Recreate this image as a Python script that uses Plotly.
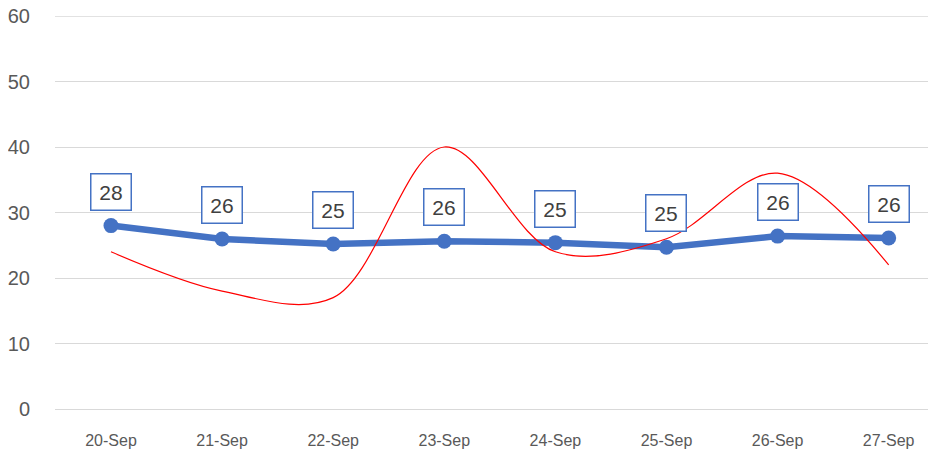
import plotly.graph_objects as go

categories = ["20-Sep", "21-Sep", "22-Sep", "23-Sep", "24-Sep", "25-Sep", "26-Sep", "27-Sep"]
avg_values = [28.0, 25.95, 25.2, 25.6, 25.4, 24.7, 26.4, 26.1]
avg_labels = ["28", "26", "25", "26", "25", "25", "26", "26"]
daily_values = [24, 18, 17, 40, 24, 26, 36, 22]
y_ticks = [0, 10, 20, 30, 40, 50, 60]

BLUE = "#4472C4"
TEXT = "#595959"
GRID = "#D9D9D9"

fig = go.Figure()
fig.add_trace(go.Scatter(
    x=categories, y=avg_values, mode="lines+markers",
    line=dict(color=BLUE, width=6.5),
    marker=dict(color=BLUE, size=15),
    hoverinfo="skip", showlegend=False,
))
fig.add_trace(go.Scatter(
    x=categories, y=daily_values, mode="lines",
    line=dict(color="#FF0000", width=1.2, shape="spline", smoothing=1.0),
    hoverinfo="skip", showlegend=False,
))

for c, v, t in zip(categories, avg_values, avg_labels):
    fig.add_annotation(
        x=c, y=v, text=t, showarrow=False, yshift=34,
        font=dict(family="Liberation Sans, Arial, sans-serif", size=21, color="#404040"),
        bgcolor="white", bordercolor=BLUE, borderwidth=1.5, borderpad=6,
        width=27, height=23,
    )

# top gridline (at the upper edge of the value range)
fig.add_shape(
    type="line", xref="paper", x0=0, x1=1, yref="y", y0=y_ticks[-1], y1=y_ticks[-1],
    line=dict(color=GRID, width=1.3), layer="below",
)

fig.update_layout(
    width=928, height=449,
    margin=dict(l=47, r=0, t=8, b=48),
    paper_bgcolor="white", plot_bgcolor="white",
    xaxis=dict(
        type="category", range=[-0.504, 7.426], automargin=False,
        showgrid=False, showline=False, zeroline=False,
        ticks="outside", ticklen=17, tickcolor="rgba(0,0,0,0)",
        ticklabeloverflow="allow",
        tickfont=dict(family="Liberation Sans, Arial, sans-serif", size=16, color=TEXT),
    ),
    yaxis=dict(
        range=[0, 60], tickvals=y_ticks, automargin=False,
        showgrid=True, gridcolor=GRID, gridwidth=1.3,
        zeroline=True, zerolinecolor=GRID, zerolinewidth=1.3,
        showline=False,
        ticks="outside", ticklen=20, tickcolor="rgba(0,0,0,0)",
        ticklabeloverflow="allow",
        tickfont=dict(family="Liberation Sans, Arial, sans-serif", size=20, color=TEXT),
    ),
)

fig.write_html("out.html")
